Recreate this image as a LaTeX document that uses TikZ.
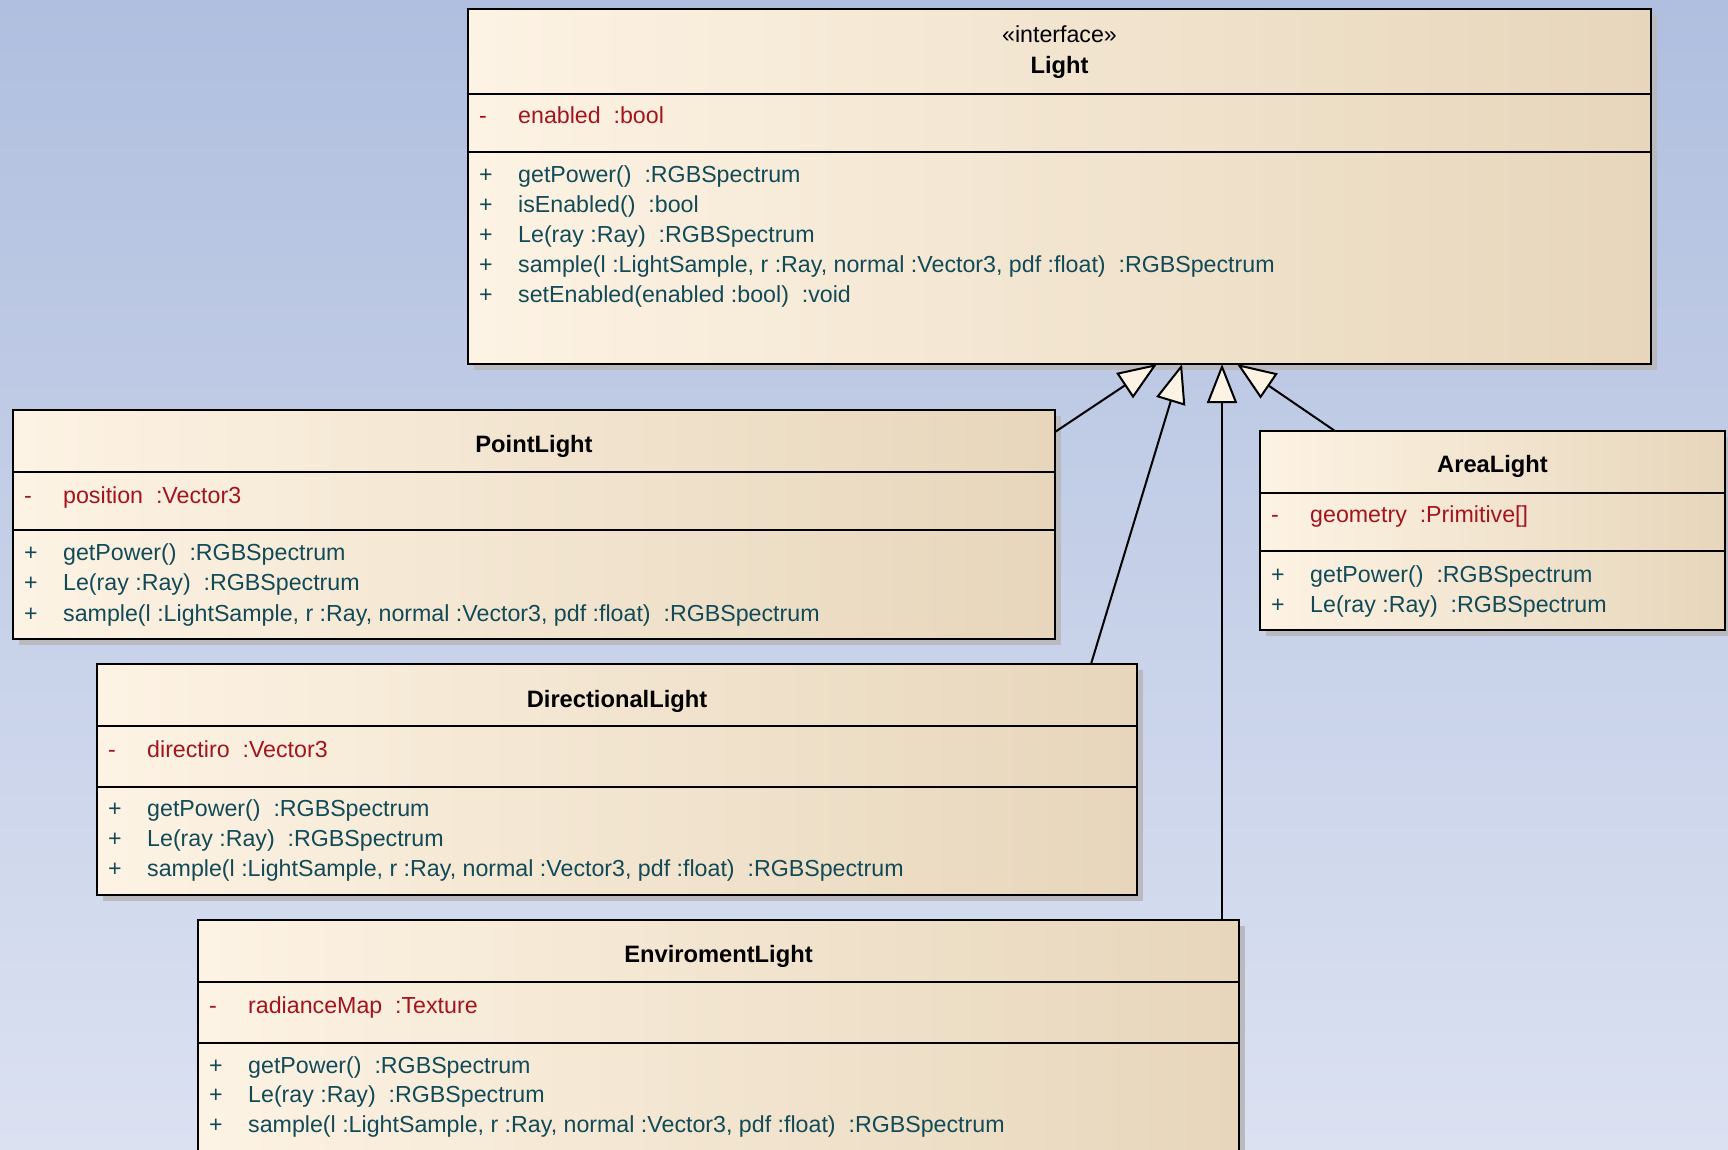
\documentclass[tikz,border=0pt]{standalone}
\usepackage{fontspec}
\setmainfont{Liberation Sans}
\usetikzlibrary{arrows.meta,calc,shadows}

\definecolor{bgtop}{RGB}{176,191,223}
\definecolor{bgbot}{RGB}{219,225,241}
\definecolor{boxl}{RGB}{253,243,228}
\definecolor{boxr}{RGB}{231,214,187}
\definecolor{attrred}{RGB}{163,21,29}
\definecolor{opteal}{RGB}{18,74,88}
\definecolor{shadowgray}{RGB}{186,186,190}

\begin{document}
\begin{tikzpicture}[x=1pt,y=-1pt,
  classbox/.style={rectangle, draw=black, line width=2pt,
    left color=boxl, right color=boxr, inner sep=0pt, outer sep=0pt,
    anchor=north west,
    general shadow={fill=shadowgray, shadow xshift=6pt, shadow yshift=-6pt}},
  sep/.style={draw=black, line width=2pt},
  basefont/.style={font=\fontsize{23.2}{28}\selectfont, inner sep=0pt,
    text height=0.72em, text depth=0.2em, yshift=-5.5pt},
  cname/.style={basefont, font=\fontsize{23.7}{28}\selectfont\bfseries, anchor=center},
  stereo/.style={basefont, anchor=center},
  attr/.style={basefont, anchor=west, text=attrred},
  oper/.style={basefont, anchor=west, text=opteal},
  gen/.style={draw=black, line width=2pt, line join=miter,
    -{Triangle[length=39pt,width=30pt,fill=boxl]}}
]
\useasboundingbox (0,0) rectangle (1728,1149);
\clip (0,0) rectangle (1728,1149);
\fill[top color=bgtop, bottom color=bgbot] (0,0) rectangle (1728,1149);

% ---------- interface Light ----------
\node[classbox, minimum width=1183pt, minimum height=355pt] (light) at (468,9) {};
\draw[sep] (light.west |- 0,94) -- (light.east |- 0,94);
\draw[sep] (light.west |- 0,152) -- (light.east |- 0,152);
\node[stereo] (l-st) at (1059.5,34) {«interface»};
\node[cname] (l-name) at (1059.5,65) {Light};
\node[attr] (l-av) at (479,115) {-};
\node[attr] (l-a1) at (518,115) {enabled\ \ :bool};
\node[oper] (l-v1) at (479,174) {+};
\node[oper] (l-m1) at (518,174) {getPower()\ \ :RGBSpectrum};
\node[oper] (l-v2) at (479,204) {+};
\node[oper] (l-m2) at (518,204) {isEnabled()\ \ :bool};
\node[oper] (l-v3) at (479,234) {+};
\node[oper] (l-m3) at (518,234) {Le(ray :Ray)\ \ :RGBSpectrum};
\node[oper] (l-v4) at (479,264) {+};
\node[oper] (l-m4) at (518,264) {sample(l :LightSample, r :Ray, normal :Vector3, pdf :float)\ \ :RGBSpectrum};
\node[oper] (l-v5) at (479,294) {+};
\node[oper] (l-m5) at (518,294) {setEnabled(enabled :bool)\ \ :void};

% ---------- PointLight ----------
\node[classbox, minimum width=1042pt, minimum height=229pt] (pl) at (13,410) {};
\draw[sep] (pl.west |- 0,472) -- (pl.east |- 0,472);
\draw[sep] (pl.west |- 0,530) -- (pl.east |- 0,530);
\node[cname] (pl-name) at (534,444) {PointLight};
\node[attr] (pl-av) at (24,495) {-};
\node[attr] (pl-a1) at (63,495) {position\ \ :Vector3};
\node[oper] (pl-v1) at (24,552) {+};
\node[oper] (pl-m1) at (63,552) {getPower()\ \ :RGBSpectrum};
\node[oper] (pl-v2) at (24,582) {+};
\node[oper] (pl-m2) at (63,582) {Le(ray :Ray)\ \ :RGBSpectrum};
\node[oper] (pl-v3) at (24,613) {+};
\node[oper] (pl-m3) at (63,613) {sample(l :LightSample, r :Ray, normal :Vector3, pdf :float)\ \ :RGBSpectrum};

% ---------- AreaLight ----------
\node[classbox, minimum width=465pt, minimum height=199pt] (al) at (1260,431) {};
\draw[sep] (al.west |- 0,493) -- (al.east |- 0,493);
\draw[sep] (al.west |- 0,551) -- (al.east |- 0,551);
\node[cname] (al-name) at (1492.5,464) {AreaLight};
\node[attr] (al-av) at (1271,514) {-};
\node[attr] (al-a1) at (1310,514) {geometry\ \ :Primitive[]};
\node[oper] (al-v1) at (1271,574) {+};
\node[oper] (al-m1) at (1310,574) {getPower()\ \ :RGBSpectrum};
\node[oper] (al-v2) at (1271,604) {+};
\node[oper] (al-m2) at (1310,604) {Le(ray :Ray)\ \ :RGBSpectrum};

% ---------- DirectionalLight ----------
\node[classbox, minimum width=1040pt, minimum height=231pt] (dl) at (97,664) {};
\draw[sep] (dl.west |- 0,726) -- (dl.east |- 0,726);
\draw[sep] (dl.west |- 0,787) -- (dl.east |- 0,787);
\node[cname] (dl-name) at (617,699) {DirectionalLight};
\node[attr] (dl-av) at (108,749) {-};
\node[attr] (dl-a1) at (147,749) {directiro\ \ :Vector3};
\node[oper] (dl-v1) at (108,808) {+};
\node[oper] (dl-m1) at (147,808) {getPower()\ \ :RGBSpectrum};
\node[oper] (dl-v2) at (108,838) {+};
\node[oper] (dl-m2) at (147,838) {Le(ray :Ray)\ \ :RGBSpectrum};
\node[oper] (dl-v3) at (108,868) {+};
\node[oper] (dl-m3) at (147,868) {sample(l :LightSample, r :Ray, normal :Vector3, pdf :float)\ \ :RGBSpectrum};

% ---------- EnviromentLight ----------
\node[classbox, minimum width=1041pt, minimum height=280pt] (el) at (198,920) {};
\draw[sep] (el.west |- 0,982) -- (el.east |- 0,982);
\draw[sep] (el.west |- 0,1043) -- (el.east |- 0,1043);
\node[cname] (el-name) at (718.5,954) {EnviromentLight};
\node[attr] (el-av) at (209,1005) {-};
\node[attr] (el-a1) at (248,1005) {radianceMap\ \ :Texture};
\node[oper] (el-v1) at (209,1065) {+};
\node[oper] (el-m1) at (248,1065) {getPower()\ \ :RGBSpectrum};
\node[oper] (el-v2) at (209,1094) {+};
\node[oper] (el-m2) at (248,1094) {Le(ray :Ray)\ \ :RGBSpectrum};
\node[oper] (el-v3) at (209,1124) {+};
\node[oper] (el-m3) at (248,1124) {sample(l :LightSample, r :Ray, normal :Vector3, pdf :float)\ \ :RGBSpectrum};

% ---------- generalizations ----------
\draw[gen] ($(pl.north east)+(0,22)$) -- ($(light.south west)+(689,0)$);
\draw[gen] ($(dl.north west)+(994,0)$) -- ($(light.south west)+(714,0)$);
\draw[gen] ($(el.north west)+(1024,0)$) -- ($(light.south west)+(754,0)$);
\draw[gen] ($(al.north west)+(75,0)$) -- ($(light.south west)+(769,0)$);
\end{tikzpicture}
\end{document}
